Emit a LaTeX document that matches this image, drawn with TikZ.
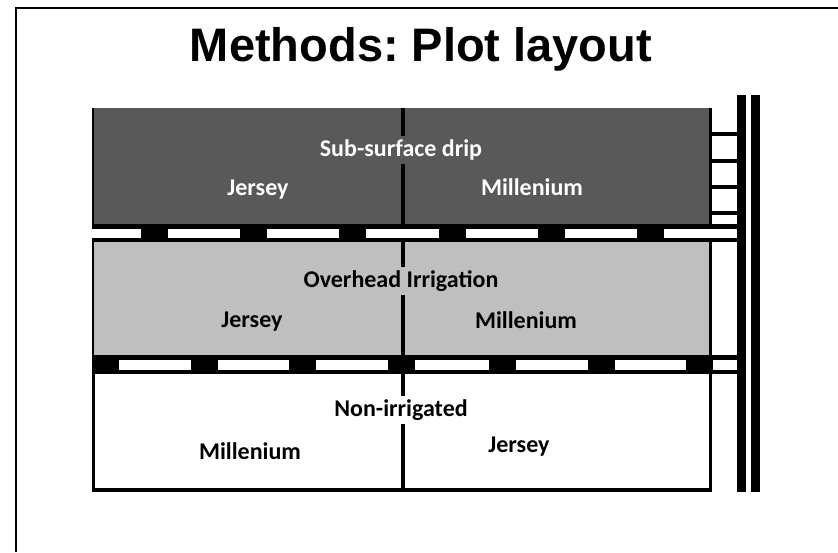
\documentclass[tikz,border=0pt]{standalone}
\usepackage{fontspec}
\setmainfont{Carlito}
\newfontfamily\titlefont{Liberation Sans}
\definecolor{darkrow}{HTML}{595959}
\definecolor{lightrow}{HTML}{BFBFBF}
\frenchspacing
\begin{document}
\begin{tikzpicture}[x=1pt,y=-1pt,
  cell/.style={font=\fontsize{24}{28}\selectfont\bfseries, inner sep=0pt, anchor=center},
  head/.style={cell, minimum height=28pt, inner xsep=3pt},
  ink/.style={fill=black}]
\useasboundingbox (0,0) rectangle (838,552);
\fill[white] (0,0) rectangle (838,552);
% slide frame
\fill[ink] (15,7) rectangle (838,9);
\fill[ink] (15,7) rectangle (17,552);
% title
\node[font=\titlefont\fontsize{47}{51}\selectfont\bfseries, anchor=center] (title) at (421,49) {Methods: Plot layout};
% row fills
\fill[darkrow] (92,108) rectangle (712,225);
\fill[lightrow] (92,241.7) rectangle (712,355);
% row borders
\fill[ink] (92,108) rectangle (94,225);
\fill[ink] (709,108) rectangle (712,225);
\fill[ink] (92,241.7) rectangle (93.5,355);
\fill[ink] (709,241.7) rectangle (712,355);
\fill[ink] (92,374) rectangle (95,492);
\fill[ink] (709,374) rectangle (712,492);
\fill[ink] (92,488) rectangle (712,492);
% strip 1
\fill[ink] (92,224.3) rectangle (737,229);
\fill[ink] (92,237.7) rectangle (737,241.7);
\foreach \a in {141,240,339,439,538,637}
  \fill[ink] (\a,229) rectangle (\a+27,237.7);
% strip 2
\fill[ink] (92,355) rectangle (737,360);
\fill[ink] (92,370) rectangle (737,374.3);
\foreach \a in {92,191,289,388,489,588,686}
  \fill[ink] (\a,360) rectangle (\a+27,370);
% ladder rungs
\foreach \a/\b in {131.7/135.7,159/162.7,185/189,211/215}
  \fill[ink] (712,\a) rectangle (737,\b);
% main lines
\fill[ink] (737,95) rectangle (746,492);
\fill[ink] (751,95) rectangle (760,492);
% centre divider
\fill[ink] (401,108) rectangle (405,224.3);
\fill[ink] (401,241.7) rectangle (405,355);
\fill[ink] (401,374.3) rectangle (405,488);
% row 1
\node[head, fill=darkrow, text=white] (r1) at (401,150) {Sub-surface drip};
\node[cell, text=white] (r1a) at (258,190) {Jersey};
\node[cell, text=white] (r1b) at (532,187) {Millenium};
% row 2
\node[head, fill=lightrow] (r2) at (401,281) {Overhead Irrigation};
\node[cell] (r2a) at (252,322) {Jersey};
\node[cell] (r2b) at (526,320) {Millenium};
% row 3
\node[head, fill=white] (r3) at (401,410) {Non-irrigated};
\node[cell] (r3a) at (250,451) {Millenium};
\node[cell] (r3b) at (519,447) {Jersey};
\end{tikzpicture}
\end{document}
